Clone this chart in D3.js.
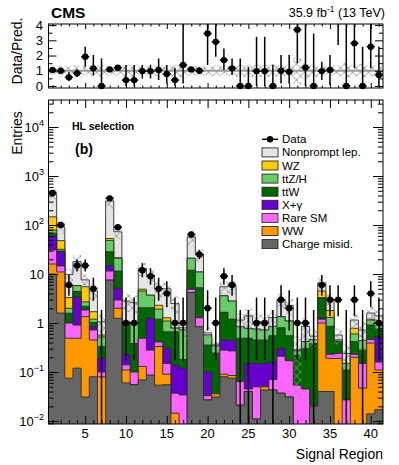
<!DOCTYPE html>
<html>
<head>
<meta charset="utf-8">
<script src="https://cdn.jsdelivr.net/npm/d3@7"></script>
<style>
body { margin: 0; background: #fff; }
text { font-family: "Liberation Sans", Arial, Helvetica, sans-serif; fill: #000; }
</style>
</head>
<body>
<svg id="chart" width="399" height="465"></svg>
<script>
// signal regions 1..41
const bins = d3.range(1, 42);
const xTickVals = [5, 10, 15, 20, 25, 30, 35, 40];
const decades = [-2, -1, 0, 1, 2, 3, 4];
const ratioTicks = [0, 1, 2, 3, 4];

// process yields per signal region (stacked bottom -> top)
const chargeMisid = [10,1.6,0.075,0.12,0.031,0.08,0,7.5,1.25,0.06,0.055,0.069,0.086,0.054,0.055,0,0,4.2,0.84,0.027,0.031,0.08,0.075,0.021,0.04,0.011,0.043,0.043,0.037,0.031,0,0,0.02,0.04,0.04,0,0,0,0,0.014,0.017];
const ww = [6,9.4,0.415,0.37,1.32,0.37,0.08,0,0.75,0.05,0,0.061,0,0.276,0.035,0.0145,0,0,0,0,0.005,0.01,0.01,0,0,0,0.007,0,0,0,0,0,0,0.96,0.15,0.19,0,0.2,0.047,0.376,0.093];
const rareSM = [15,3.6,0.51,0.42,0.49,0.27,0.02,4.0,0.95,0.03,0.045,0.36,0.194,0.08,0.06,0.0225,0.034,0.7,0.44,0.006,0,0.19,0.185,0.043,0.005,0.039,0,0.027,0.173,0.139,0.054,0.045,0.001,0.2,0.04,0.05,0.027,0.03,0.103,0.07,0.05];
const xGamma = [27,13.4,0,2.49,0,0.12,0.09,3.3,2.15,0.09,0,0,0.97,0,0.16,0.103,0.086,0,0,0.067,0,0.17,0.17,0,0.105,0.1,0.1,0.09,0.09,0,0,0,0,0.05,0,0,0,0,0,0,0.37];
const ttW = [10,1.5,0.58,1.0,0.36,0.19,0.14,13.7,6.4,0.72,0.28,1.56,0.8,0.79,0.35,0.52,0.06,7.1,3.97,0.255,0.209,1.2,0.76,0.426,0.34,0.3,0.3,0.39,0.5,0.38,0.166,0.255,0.359,1.95,0.63,0.18,0.083,0.19,0.13,0.45,0.22];
const ttZH = [11,2.5,0.42,1.4,0.5,0.17,0.19,20,9.5,0.1,0.62,2.45,1.65,0.73,0.44,0.13,0.54,9,5.75,0.215,0.095,1.95,1.6,0.35,0.29,0.3,0.27,0.3,0.55,0.55,0.05,0.12,0.08,0.1,0.44,0.03,0.04,0.18,0.16,0.24,0.25];
const wz = [68,16,1.3,0,2.8,0.5,0.05,4.5,0.5,0,0,0.4,0,0.37,0.18,0,0,0,0,0,0,0,0,0,0,0,0,0,0,0,0,0,0,1.2,0.5,0,0,0.18,0,0.05,0];
const nonprompt = [278,44,6.5,12.2,2.1,2.8,0.49,257,51.5,1.75,1.6,8.1,5.8,2.7,3.72,1.71,0.08,36,14,0.06,0.03,1.9,2.8,0.31,0.62,0.33,0.36,0.45,1.65,1.2,0.02,0.43,0.08,2.1,1.25,0.12,0.09,0.37,0.28,0.4,0.4];
// relative uncertainty of the prediction
const predUnc = [0.25,0.3,0.3,0.35,0.3,0.35,0.4,0.3,0.3,0.4,0.4,0.3,0.3,0.35,0.35,0.4,0.45,0.3,0.3,0.3,0.35,0.3,0.3,0.4,0.4,0.4,0.4,0.4,0.35,0.35,0.9,0.5,0.4,0.3,0.3,0.35,0.5,0.35,0.45,0.35,0.35];

// observed events and their error bar ends
const observed = [450,100,6,15,15,5,0,350,90,1,1,12,9,5,4,1,1,64,25,2,1,9,6,0,0,1,1,0,3,2,1,1,0,6,3,3,0,3,0,4,1];
const obsLo = [429,90,3.62,11.2,11.2,2.84,0,331,80.5,0.173,0.173,8.6,6.06,2.84,2.09,0.173,0.173,56,20.1,0.708,0.173,6.06,3.62,0,0,0.173,0.173,0,1.37,0.708,0.173,0.173,0,3.62,1.37,1.37,0,1.37,0,2.09,0.173];
const obsHi = [472,111,9.58,19.9,19.9,8.38,1.84,370,100.5,3.3,3.3,16.5,13.1,8.38,7.16,3.3,3.3,73,31,4.64,3.3,13.1,9.58,1.84,1.84,3.3,3.3,1.84,5.92,4.64,3.3,3.3,1.84,9.58,5.92,5.92,1.84,5.92,1.84,7.16,3.3];

// data / prediction
const ratio = [1.05,1.0,0.57,0.83,1.92,1.16,0,1.09,1.2,0.39,0.39,0.98,0.98,1.05,0.79,0.39,1.38,1.09,1.0,3.45,2.9,1.7,1.16,0,0,0.98,0.98,0,1.0,0.94,3.7,1.22,0,0.98,1.05,6,0,2.8,0,2.58,0.72];
const ratioLo = [0.98,0.9,0.33,0.6,1.27,0.7,0,1.03,1.08,0,0,0.5,0.5,0.39,0.17,0,0.17,0.95,0.8,1.38,1.92,1.05,0.72,0,0,0,0,0,0.17,0.17,1.49,0,0,0.39,0.07,2.69,0,1.16,0,1.16,0];
const ratioHi = [1.12,1.12,0.92,1.1,2.58,2.03,1.8,1.15,1.33,1.38,1.38,1.38,1.4,1.81,1.38,1.2,4.5,1.25,1.25,4.5,4.5,2.47,1.81,1.81,1.27,3.23,3.23,1.4,2.03,2.03,4.5,4.5,3.45,1.6,2.03,9,4.5,4.5,2.58,4.5,2.58];

const procNames = ["Charge misid.", "WW", "Rare SM", "X+\u03b3", "ttW", "ttZ/H", "WZ", "Nonprompt lep."];
const procColors = ["#666666", "#ff9900", "#ff66ff", "#6600cc", "#006600", "#66cc66", "#ffcc00", "#e5e5e5"];
const layers = [chargeMisid, ww, rareSM, xGamma, ttW, ttZH, wz, nonprompt];

// ---- layout
const svg = d3.select("#chart");
const L = 48.5, R = 383, mTop = 100, mBot = 424, rTop = 24, rBot = 88;
const x = d3.scaleLinear().domain([0.5, 41.5]).range([L, R]);
const y = d3.scaleLog().domain([0.0087, 35600]).range([mBot, mTop]);
const yr = d3.scaleLinear().domain([-0.13, 4.07]).range([rBot, rTop]);
const yMin = y.domain()[0];
const bw = x(1.5) - x(0.5);

const defs = svg.append("defs");
defs.append("clipPath").attr("id", "clipMain").append("rect")
	.attr("x", L).attr("y", mTop).attr("width", R - L).attr("height", mBot - mTop);
defs.append("clipPath").attr("id", "clipRatio").append("rect")
	.attr("x", L).attr("y", rTop).attr("width", R - L).attr("height", rBot - rTop);
const pat = defs.append("pattern").attr("id", "hatch")
	.attr("patternUnits", "userSpaceOnUse").attr("width", 8).attr("height", 8)
	.attr("x", L).attr("y", 0);
pat.append("path").attr("d", "M0,0L8,8M8,0L0,8")
	.attr("stroke", "#8a8a8a").attr("stroke-width", 0.8);

// cumulative stack
let run = bins.map(() => 0);
const cum = layers.map(l => (run = run.map((v, i) => v + l[i])));
const total = cum[cum.length - 1];

function stepPath(vals) {
	let p = "M" + x(0.5) + "," + (mBot + 2);
	vals.forEach((v, i) => {
		const yy = v > yMin ? y(v) : mBot + 2;
		p += "L" + x(i + 0.5) + "," + yy + "L" + x(i + 1.5) + "," + yy;
	});
	return p + "L" + x(41.5) + "," + (mBot + 2) + "Z";
}

// ---- main panel
const gMain = svg.append("g").attr("clip-path", "url(#clipMain)");
for (let k = layers.length - 1; k >= 0; k--) {
	gMain.append("path").attr("d", stepPath(cum[k]))
		.attr("fill", procColors[k]).attr("stroke", "#2a2a2a").attr("stroke-width", 0.9);
}
// uncertainty band
gMain.selectAll(".unc").data(bins).join("rect")
	.attr("x", b => x(b - 0.5)).attr("width", bw)
	.attr("y", (b, i) => y(total[i] * (1 + predUnc[i])))
	.attr("height", (b, i) => y(Math.max(total[i] * (1 - predUnc[i]), yMin)) - y(total[i] * (1 + predUnc[i])))
	.attr("fill", "url(#hatch)");
// data
bins.forEach((b, i) => {
	const yl = obsLo[i] > yMin ? y(obsLo[i]) : mBot + 2;
	gMain.append("line").attr("x1", x(b)).attr("x2", x(b)).attr("y1", yl).attr("y2", y(obsHi[i]))
		.attr("stroke", "#000").attr("stroke-width", 1.5);
	if (observed[i] > 0) {
		gMain.append("line").attr("x1", x(b - 0.5)).attr("x2", x(b + 0.5))
			.attr("y1", y(observed[i])).attr("y2", y(observed[i]))
			.attr("stroke", "#000").attr("stroke-width", 1.5);
		gMain.append("circle").attr("cx", x(b)).attr("cy", y(observed[i])).attr("r", 3.2).attr("fill", "#000");
	}
});

// ---- ratio panel
const gRatio = svg.append("g").attr("clip-path", "url(#clipRatio)");
gRatio.selectAll(".runc").data(bins).join("rect")
	.attr("x", b => x(b - 0.5)).attr("width", bw)
	.attr("y", (b, i) => yr(1 + predUnc[i]))
	.attr("height", (b, i) => yr(1 - predUnc[i]) - yr(1 + predUnc[i]))
	.attr("fill", "url(#hatch)");
gRatio.append("line").attr("x1", L).attr("x2", R).attr("y1", yr(1)).attr("y2", yr(1))
	.attr("stroke", "#999").attr("stroke-width", 2);
bins.forEach((b, i) => {
	gRatio.append("line").attr("x1", x(b)).attr("x2", x(b))
		.attr("y1", yr(ratioLo[i])).attr("y2", yr(ratioHi[i]))
		.attr("stroke", "#000").attr("stroke-width", 1.5);
});
const gRatioPts = svg.append("g");
bins.forEach((b, i) => {
	if (ratio[i] > 4) return;
	gRatioPts.append("line").attr("x1", x(b - 0.5)).attr("x2", x(b + 0.5))
		.attr("y1", yr(ratio[i])).attr("y2", yr(ratio[i]))
		.attr("stroke", "#000").attr("stroke-width", 1.5);
	gRatioPts.append("circle").attr("cx", x(b)).attr("cy", yr(ratio[i])).attr("r", 3.2).attr("fill", "#000");
});

// ---- axes (inward ticks)
const minorBins = bins.filter(b => b % 5 !== 0);
function xTicks(yPos, big, small, dir) {
	const mk = dir === "bottom" ? d3.axisBottom : d3.axisTop;
	svg.append("g").attr("transform", "translate(0," + yPos + ")")
		.call(mk(x).tickValues(xTickVals).tickSize(-big).tickFormat(""))
		.call(g => g.select(".domain").remove());
	svg.append("g").attr("transform", "translate(0," + yPos + ")")
		.call(mk(x).tickValues(minorBins).tickSize(-small).tickFormat(""))
		.call(g => g.select(".domain").remove());
}
xTicks(mBot, 8, 4, "bottom");
xTicks(mTop, 8, 4, "top");
xTicks(rBot, 5, 2.5, "bottom");
xTicks(rTop, 5, 2.5, "top");

const majorY = decades.map(e => Math.pow(10, e));
const minorY = [];
d3.range(-3, 5).forEach(e => d3.range(2, 10).forEach(m => {
	const v = m * Math.pow(10, e);
	if (v > yMin && v < y.domain()[1]) minorY.push(v);
}));
[[d3.axisLeft, L], [d3.axisRight, R]].forEach(([mk, xPos]) => {
	svg.append("g").attr("transform", "translate(" + xPos + ",0)")
		.call(mk(y).tickValues(majorY).tickSize(-10).tickFormat(""))
		.call(g => g.select(".domain").remove());
	svg.append("g").attr("transform", "translate(" + xPos + ",0)")
		.call(mk(y).tickValues(minorY).tickSize(-5).tickFormat(""))
		.call(g => g.select(".domain").remove());
	svg.append("g").attr("transform", "translate(" + xPos + ",0)")
		.call(mk(yr).tickValues(ratioTicks).tickSize(-8).tickFormat(""))
		.call(g => g.select(".domain").remove());
	svg.append("g").attr("transform", "translate(" + xPos + ",0)")
		.call(mk(yr).tickValues([0.5, 1.5, 2.5, 3.5]).tickSize(-4).tickFormat(""))
		.call(g => g.select(".domain").remove());
});
svg.selectAll(".tick line").attr("stroke", "#000");

// frames
svg.append("rect").attr("x", L).attr("y", mTop).attr("width", R - L).attr("height", mBot - mTop)
	.attr("fill", "none").attr("stroke", "#000").attr("stroke-width", 1);
svg.append("rect").attr("x", L).attr("y", rTop).attr("width", R - L).attr("height", rBot - rTop)
	.attr("fill", "none").attr("stroke", "#000").attr("stroke-width", 1);

// tick labels
xTickVals.forEach(v => {
	svg.append("text").attr("x", x(v)).attr("y", 438).attr("text-anchor", "middle")
		.attr("font-size", 13).text(v);
});
decades.forEach(e => {
	const t = svg.append("text").attr("x", 44).attr("y", y(Math.pow(10, e)) + 4.5)
		.attr("text-anchor", "end").attr("font-size", 13);
	if (e === 0) { t.text("1"); return; }
	if (e === 1) { t.text("10"); return; }
	t.append("tspan").text("10");
	t.append("tspan").attr("dy", -5.5).attr("font-size", 9).text(e < 0 ? "\u2212" + (-e) : e);
});
ratioTicks.forEach(v => {
	svg.append("text").attr("x", 43).attr("y", yr(v) + 4.5).attr("text-anchor", "end")
		.attr("font-size", 13).text(v);
});

// titles
svg.append("text").attr("x", 383).attr("y", 459).attr("text-anchor", "end")
	.attr("font-size", 14).text("Signal Region");
svg.append("text").attr("transform", "translate(22,133) rotate(-90)").attr("text-anchor", "middle")
	.attr("font-size", 14).text("Entries");
svg.append("text").attr("transform", "translate(22,51) rotate(-90)").attr("text-anchor", "middle")
	.attr("font-size", 14).text("Data/Pred.");
svg.append("text").attr("x", 51).attr("y", 18).attr("font-size", 15.5).attr("font-weight", "bold").text("CMS");
const lumi = svg.append("text").attr("x", 385).attr("y", 17).attr("text-anchor", "end").attr("font-size", 12.5);
lumi.append("tspan").text("35.9 fb");
lumi.append("tspan").attr("dy", -5).attr("font-size", 8.5).text("-1");
lumi.append("tspan").attr("dy", 5).text(" (13 TeV)");
svg.append("text").attr("x", 72).attr("y", 130).attr("font-size", 10.5).attr("font-weight", "bold").text("HL selection");
svg.append("text").attr("x", 75).attr("y", 154).attr("font-size", 14).attr("font-weight", "bold").text("(b)");

// legend
const legX = 262, legY0 = 139.3, legDy = 13.1;
const gLeg = svg.append("g");
gLeg.append("line").attr("x1", legX).attr("x2", legX + 16).attr("y1", legY0).attr("y2", legY0)
	.attr("stroke", "#000").attr("stroke-width", 1.5);
gLeg.append("circle").attr("cx", legX + 8).attr("cy", legY0).attr("r", 3.2).attr("fill", "#000");
gLeg.append("text").attr("x", legX + 20).attr("y", legY0 + 4).attr("font-size", 11.5).text("Data");
for (let k = layers.length - 1; k >= 0; k--) {
	const row = layers.length - k;
	const yy = legY0 + row * legDy;
	gLeg.append("rect").attr("x", legX).attr("y", yy - 4.5).attr("width", 16).attr("height", 9)
		.attr("fill", procColors[k]).attr("stroke", "#2a2a2a").attr("stroke-width", 0.9);
	gLeg.append("text").attr("x", legX + 20).attr("y", yy + 4).attr("font-size", 11.5).text(procNames[k]);
}
</script>
</body>
</html>
